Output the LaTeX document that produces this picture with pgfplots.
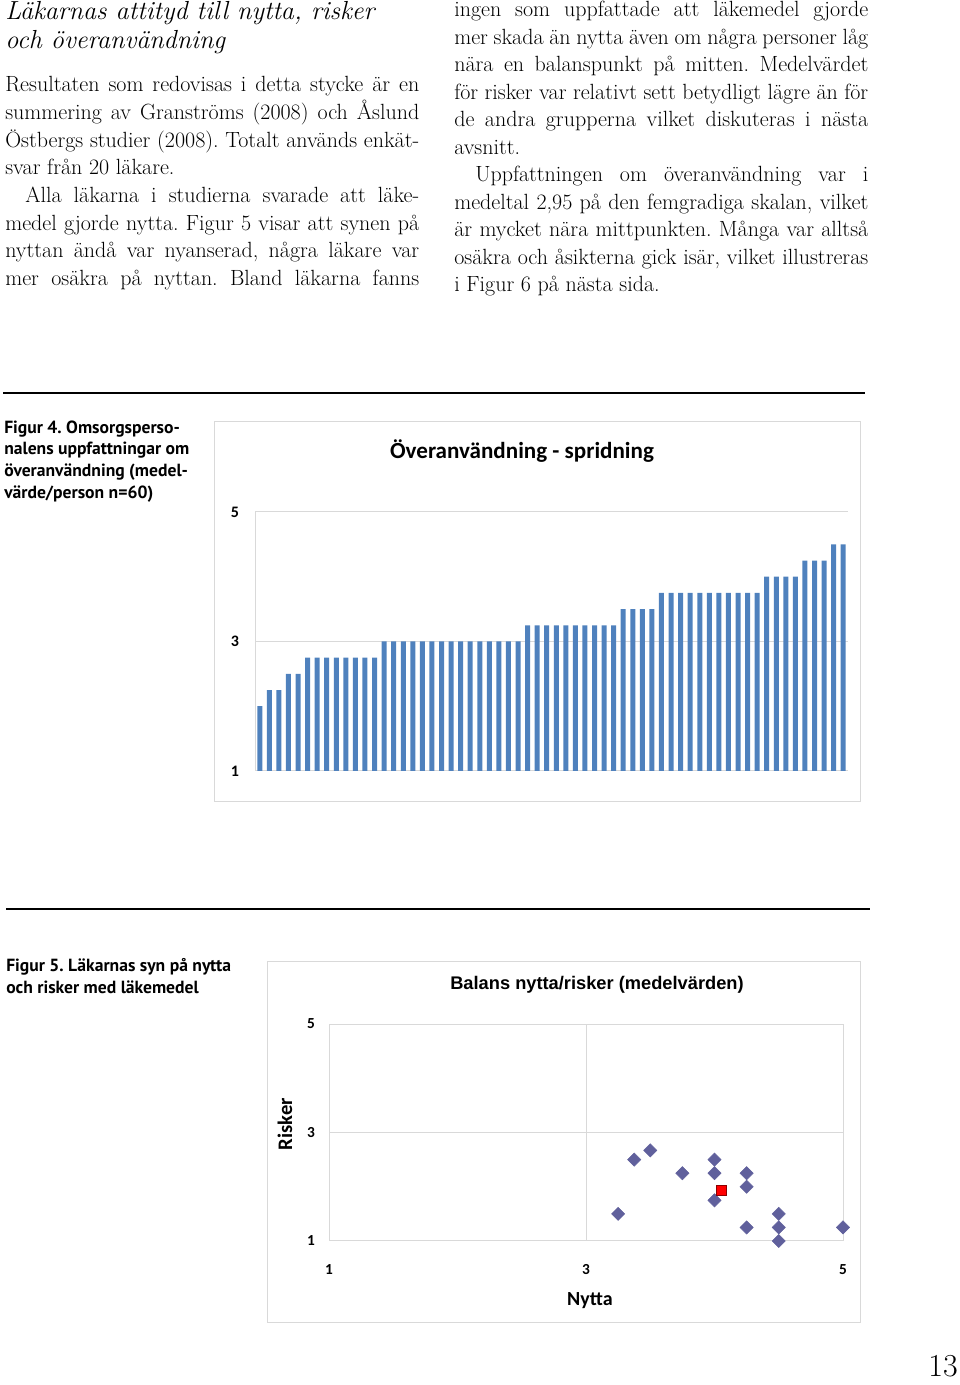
\documentclass[border=0pt]{standalone}
\usepackage{fontspec}
\usepackage{pgfplots}
\usepackage{pgfplotstable}
\pgfplotsset{compat=1.18}
\frenchspacing
\newfontfamily\carlito{Carlito}
\newfontfamily\pts{PT Sans}
\newfontfamily\lib{Liberation Sans}
\definecolor{barc}{RGB}{79,129,189}
\definecolor{gridc}{RGB}{217,217,217}
\definecolor{framec}{RGB}{217,217,217}
\definecolor{dia}{RGB}{96,96,156}

\pgfplotstableread{
x y
1 2.0
2 2.25
3 2.25
4 2.5
5 2.5
6 2.75
7 2.75
8 2.75
9 2.75
10 2.75
11 2.75
12 2.75
13 2.75
14 3.0
15 3.0
16 3.0
17 3.0
18 3.0
19 3.0
20 3.0
21 3.0
22 3.0
23 3.0
24 3.0
25 3.0
26 3.0
27 3.0
28 3.0
29 3.25
30 3.25
31 3.25
32 3.25
33 3.25
34 3.25
35 3.25
36 3.25
37 3.25
38 3.25
39 3.5
40 3.5
41 3.5
42 3.5
43 3.75
44 3.75
45 3.75
46 3.75
47 3.75
48 3.75
49 3.75
50 3.75
51 3.75
52 3.75
53 3.75
54 4.0
55 4.0
56 4.0
57 4.0
58 4.25
59 4.25
60 4.25
61 4.5
62 4.5
}\bardata

\pgfplotstableread{
x y
3.25 1.5
3.375 2.5
3.5 2.67
3.75 2.25
4.0 2.5
4.0 2.25
4.0 1.75
4.25 2.25
4.25 2.0
4.25 1.25
4.5 1.5
4.5 1.25
4.5 1.0
5.0 1.25
}\scatdata

\newcommand{\jl}[4]{\node[anchor=base west,inner sep=0pt] at (#1,{1385-#2}) {\makebox[#3][s]{#4}};}
\newcommand{\pl}[3]{\node[anchor=base west,inner sep=0pt] at (#1,{1385-#2}) {#3};}

\begin{document}
\begin{tikzpicture}[x=0.75pt,y=0.75pt,font=\fontsize{16.5}{19}\selectfont]
\path[use as bounding box] (0,0) rectangle (960,1385);

% heading
\pl{5}{19.3}{\itshape\fontsize{19.6}{22}\selectfont Läkarnas attityd till nytta, risker}
\pl{5}{48.3}{\itshape\fontsize{19.6}{22}\selectfont och överanvändning}

% left column
\jl{5}{91.7}{310.5pt}{Resultaten som redovisas i detta stycke är en}
\jl{5}{119.4}{310.5pt}{summering av Granströms (2008) och Åslund}
\jl{5}{147.1}{310.5pt}{Östbergs studier (2008). Totalt används enkät-}
\pl{5}{174.8}{svar från 20 läkare.}
\jl{25}{202.5}{295.5pt}{Alla läkarna i studierna svarade att läke-}
\jl{5}{230.2}{310.5pt}{medel gjorde nytta. Figur 5 visar att synen på}
\jl{5}{257.9}{310.5pt}{nyttan ändå var nyanserad, några läkare var}
\jl{5}{285.6}{310.5pt}{mer osäkra på nyttan. Bland läkarna fanns}

% right column
\jl{454}{16.7}{310.5pt}{ingen som uppfattade att läkemedel gjorde}
\jl{454}{44.2}{310.5pt}{mer skada än nytta även om några personer låg}
\jl{454}{71.7}{310.5pt}{nära en balanspunkt på mitten. Medelvärdet}
\jl{454}{99.2}{310.5pt}{för risker var relativt sett betydligt lägre än för}
\jl{454}{126.7}{310.5pt}{de andra grupperna vilket diskuteras i nästa}
\pl{454}{154.2}{avsnitt.}
\jl{475}{181.7}{294.75pt}{Uppfattningen om överanvändning var i}
\jl{454}{209.2}{310.5pt}{medeltal 2,95 på den femgradiga skalan, vilket}
\jl{454}{236.7}{310.5pt}{är mycket nära mittpunkten. Många var alltså}
\jl{454}{264.2}{310.5pt}{osäkra och åsikterna gick isär, vilket illustreras}
\pl{454}{291.7}{i Figur 6 på nästa sida.}

% rules
\draw[line width=1.5pt] (3,{1385-393}) -- (865,{1385-393});
\draw[line width=1.5pt] (6,{1385-909}) -- (870,{1385-909});

% captions
\begin{scope}[font=\pts\bfseries\fontsize{13.2}{15}\selectfont]
\pl{4}{433.3}{Figur 4. Omsorgsperso-}
\pl{4}{455}{nalens uppfattningar om}
\pl{4}{476.7}{överanvändning (medel-}
\pl{4}{498.3}{värde/person n=60)}
\pl{6}{971.5}{Figur 5. Läkarnas syn på nytta}
\pl{6}{993.5}{och risker med läkemedel}
\end{scope}

% frames
\draw[framec,line width=0.75pt] (214,{1385-422}) rectangle (860,{1385-802});
\draw[framec,line width=0.75pt] (267,{1385-962}) rectangle (860,{1385-1323});

% bar chart
\begin{axis}[at={(191.25pt,460.5pt)}, anchor=south west, scale only axis,
  width=444.75pt, height=194.25pt,
  xmin=0.5, xmax=62.5, ymin=1, ymax=5,
  xtick=\empty, ytick={1,3,5},
  ymajorgrids, grid style={draw=gridc,line width=0.75pt},
  axis x line*=bottom, axis y line*=left,
  axis line style={draw=gridc,line width=0.75pt},
  major tick length=0pt,
  /pgf/number format/assume math mode=true,
  yticklabel style={anchor=center,xshift=-15pt,font=\carlito\bfseries\fontsize{12}{14}\selectfont}]
\addplot[ybar, bar width=3.75pt, fill=barc, draw=none] table[x=x,y=y]{\bardata};
\end{axis}
\node[anchor=base,inner sep=0pt,font=\carlito\bfseries\fontsize{17.3}{20}\selectfont] at (522,{1385-459}) {Överanvändning - spridning};

% scatter chart
\begin{axis}[at={(246.75pt,108pt)}, anchor=south west, scale only axis,
  width=385.5pt, height=162.75pt,
  xmin=1, xmax=5, ymin=1, ymax=5,
  xtick={1,3,5}, ytick={1,3,5},
  grid=major, grid style={draw=gridc,line width=0.75pt},
  axis line style={draw=gridc,line width=0.75pt},
  major tick length=0pt, clip=false,
  /pgf/number format/assume math mode=true,
  xticklabel style={anchor=center,yshift=-21.75pt,font=\carlito\bfseries\fontsize{11.5}{13}\selectfont},
  yticklabel style={anchor=center,xshift=-13.5pt,font=\carlito\bfseries\fontsize{11.5}{13}\selectfont}]
\addplot[only marks, mark=square*, mark size=3.5pt, mark options={rotate=45,fill=dia,draw=dia}] table[x=x,y=y]{\scatdata};
\addplot[only marks, mark=square*, mark size=3.8pt, mark options={fill=red,draw=red!55!black}] coordinates {(4.05,1.93)};
\end{axis}
\node[anchor=base,inner sep=0pt,font=\lib\bfseries\fontsize{13.7}{16}\selectfont] at (597,{1385-990}) {Balans nytta/risker (medelvärden)};
\node[anchor=center,inner sep=0pt,rotate=90,font=\carlito\bfseries\fontsize{15.5}{18}\selectfont] at (285,{1385-1124}) {Risker};
\node[anchor=center,inner sep=0pt,font=\carlito\bfseries\fontsize{15}{18}\selectfont] at (590,{1385-1301}) {Nytta};

% page number
\node[anchor=base east,inner sep=0pt,font=\fontsize{24}{26}\selectfont] at (958,{1385-1377}) {13};
\end{tikzpicture}
\end{document}
